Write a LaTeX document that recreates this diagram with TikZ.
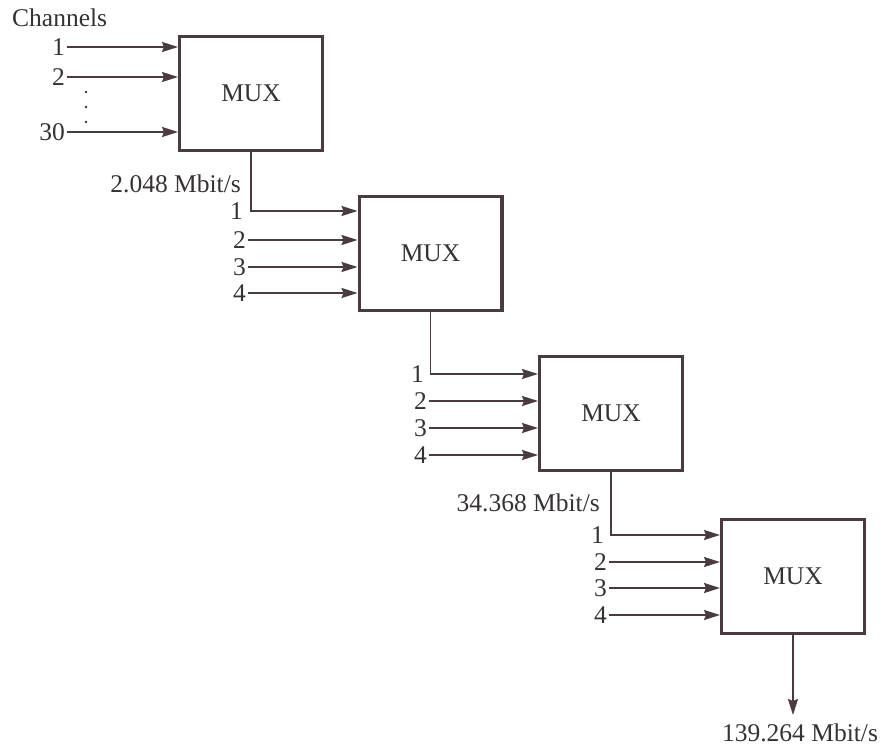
\documentclass[tikz,border=0pt]{standalone}
\usepackage{fontspec}
\setmainfont{Liberation Serif}
\usetikzlibrary{arrows.meta,positioning}
\definecolor{muxLine}{HTML}{4A3B41}
\definecolor{muxText}{HTML}{363132}

\begin{document}
\begin{tikzpicture}[
  x=1pt, y=-1pt,
  font=\fontsize{25.5}{30}\selectfont,
  text=muxText,
  muxbox/.style={
    rectangle, draw=muxLine, line width=3.4pt,
    minimum width=142.6pt, minimum height=113.6pt, inner sep=0pt
  },
  chlabel/.style={anchor=east, inner sep=2pt},
  ratelabel/.style={anchor=east, inner sep=0pt},
  flow/.style={-{Stealth[length=16pt,width=10pt,inset=2pt]}, line width=1.8pt, draw=muxLine}
]
\useasboundingbox (0,0) rectangle (883,749);

%  Multiplexer boxes 
\node[muxbox] (mux1) at (251,93.5)  {MUX};
\node[muxbox] (mux2) at (430.5,253.5) {MUX};
\node[muxbox] (mux3) at (611,413.5) {MUX};
\node[muxbox] (mux4) at (793,576.5) {MUX};

%  First stage: 30 channels 
\node[anchor=base west, inner sep=0pt] (chan) at (12,27) {Channels};
\node[chlabel] (ch1a) at (67,47)  {1};
\node[chlabel] (ch1b) at (67,77)  {2};
\node[chlabel] (ch1c) at (67,132) {30};
\foreach \y in {92,107,122}
  \fill[muxText] (86,\y) circle (1.3);
\foreach \c in {ch1a,ch1b,ch1c}
  \draw[flow] (\c.east) -- (mux1.west |- \c);

%  Second stage 
\node[ratelabel] (rate1) at (241,184) {2.048 Mbit/s};
\node[chlabel] (ch2a) at (245,211) {1};
\node[chlabel] (ch2b) at (248,240) {2};
\node[chlabel] (ch2c) at (248,267) {3};
\node[chlabel] (ch2d) at (248,293) {4};
\draw[flow] (mux1.south) |- (mux2.west |- ch2a);
\foreach \c in {ch2b,ch2c,ch2d}
  \draw[flow] (\c.east) -- (mux2.west |- \c);

%  Third stage 
\node[chlabel] (ch3a) at (426,374) {1};
\node[chlabel] (ch3b) at (429,401) {2};
\node[chlabel] (ch3c) at (429,428) {3};
\node[chlabel] (ch3d) at (429,455) {4};
\draw[flow] (mux2.south) |- (mux3.west |- ch3a);
\foreach \c in {ch3b,ch3c,ch3d}
  \draw[flow] (\c.east) -- (mux3.west |- \c);

%  Fourth stage 
\node[ratelabel] (rate2) at (600,503) {34.368 Mbit/s};
\node[chlabel] (ch4a) at (606,535) {1};
\node[chlabel] (ch4b) at (609,562) {2};
\node[chlabel] (ch4c) at (609,588) {3};
\node[chlabel] (ch4d) at (609,615) {4};
\draw[flow] (mux3.south) |- (mux4.west |- ch4a);
\foreach \c in {ch4b,ch4c,ch4d}
  \draw[flow] (\c.east) -- (mux4.west |- \c);

%  Output 
\coordinate (out) at ([yshift=-80pt]mux4.south);
\draw[flow] (mux4.south) -- (out);
\node[below=9pt of out, xshift=7pt, inner sep=0pt] (rate3) {139.264 Mbit/s};

\end{tikzpicture}
\end{document}
